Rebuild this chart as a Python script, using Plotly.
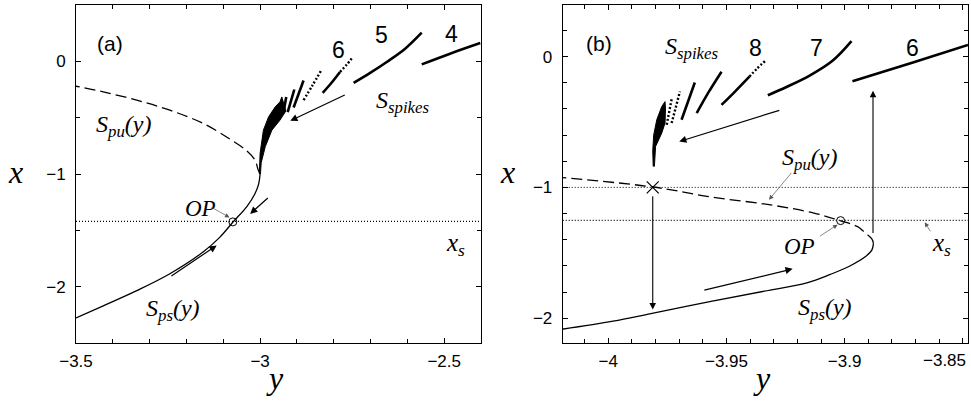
import plotly.graph_objects as go

# ---------------- Panel (a) data ----------------
sps_a_x = [-3.5, -3.426, -3.335, -3.245, -3.154, -3.109, -3.074, -3.036, -3.014, -3.004, -3.0]
sps_a_y = [-2.277, -2.17, -2.035, -1.885, -1.69, -1.56, -1.428, -1.289, -1.175, -1.09, -1.0]
spu_a_x = [-3.0, -3.005, -3.014, -3.036, -3.082, -3.154, -3.245, -3.335, -3.426, -3.5]
spu_a_y = [-1.0, -0.965, -0.876, -0.795, -0.690, -0.552, -0.434, -0.345, -0.271, -0.221]

cluster_a_x = [-3.002, -3.001, -3.000, -2.991, -2.977, -2.959, -2.946, -2.941,
               -2.930, -2.946, -2.968, -2.986, -2.997, -2.999]
cluster_a_y = [-1.00, -0.90, -0.816, -0.611, -0.493, -0.404, -0.360, -0.316,
               -0.44, -0.522, -0.611, -0.758, -0.90, -1.00]

branch_a_solid = [
    ([-2.937, -2.929], [-0.463, -0.316]),
    ([-2.925, -2.907], [-0.45, -0.25]),
    ([-2.909, -2.882], [-0.41, -0.17]),
    ([-2.830, -2.806, -2.783], [-0.280, -0.19, -0.094]),
    ([-2.746, -2.701, -2.656, -2.606, -2.561], [-0.192, -0.103, -0.006, 0.112, 0.254]),
    ([-2.561, -2.484, -2.402], [-0.027, 0.068, 0.162]),
]
branch_a_dotted = [
    ([-2.882, -2.858, -2.834], [-0.345, -0.215, -0.080]),
    ([-2.783, -2.765, -2.748], [-0.094, -0.03, 0.038]),
]
op_a = (-3.074, -1.425)
xs_a = -1.42

# ---------------- Panel (b) data ----------------
sps_b_x = [-4.02, -3.998, -3.982, -3.956, -3.934, -3.916, -3.906, -3.898, -3.891, -3.8885, -3.8878]
sps_b_y = [-2.086, -2.023, -1.965, -1.870, -1.794, -1.730, -1.665, -1.603, -1.527, -1.48, -1.43]
spu_b_x = [-3.8878, -3.8885, -3.892, -3.8945, -3.902, -3.913, -3.932, -3.956, -3.981, -4.02]
spu_b_y = [-1.43, -1.394, -1.336, -1.30, -1.254, -1.196, -1.132, -1.075, -0.997, -0.924]

cluster_b_x = [-3.9810, -3.9812, -3.9808, -3.9795, -3.9774, -3.9760,
               -3.9758, -3.9760, -3.9774, -3.9800, -3.9805]
cluster_b_y = [-0.84, -0.72, -0.60, -0.483, -0.382, -0.344,
               -0.40, -0.508, -0.585, -0.687, -0.84]

branch_b_solid = [
    ([-3.9690, -3.9634], [-0.483, -0.198]),
    ([-3.9626, -3.9575, -3.9521], [-0.432, -0.27, -0.115]),
    ([-3.9521, -3.9465, -3.9403], [-0.369, -0.269, -0.153]),
    ([-3.9325, -3.9246, -3.9148, -3.905, -3.8971], [-0.295, -0.232, -0.145, -0.03, 0.118]),
    ([-3.8967, -3.8711, -3.8478], [-0.188, -0.045, 0.089]),
]
branch_b_dotted = [
    ([-3.9753, -3.9732], [-0.521, -0.325]),
    ([-3.9732, -3.9697], [-0.508, -0.267]),
    ([-3.9403, -3.9370, -3.9334], [-0.153, -0.09, -0.03]),
]
op_b = (-3.9017, -1.254)
cross_b = (-3.9812, -1.0)
xs_b = -1.252
upper_b = -1.0

# tick definitions
xa_ticks = [-3.5, -3.0, -2.5]
xa_text = ["\u22123.5", "\u22123", "\u22122.5"]
ya_ticks = [-2, -1, 0]
ya_text = ["\u22122", "\u22121", "0"]
xb_ticks = [-4.0, -3.95, -3.9, -3.85]
xb_text = ["\u22124", "\u22123.95", "\u22123.9", "\u22123.85"]
yb_ticks = [-2, -1, 0]
yb_text = ["\u22122", "\u22121", "0"]

xa_range = [-3.5, -2.4]
ya_range = [-2.5, 0.5]
xb_range = [-4.0193, -3.8478]
yb_range = [-2.19, 0.395]

SERIF = "Liberation Serif, Times New Roman, Times, serif"
SANS = "Liberation Sans, Arial, Helvetica, sans-serif"

fig = go.Figure()

def line(x, y, xa, ya, width=1.3, dash="solid", color="black", shape="spline"):
    fig.add_trace(go.Scatter(x=x, y=y, mode="lines", xaxis=xa, yaxis=ya,
                             line=dict(color=color, width=width, dash=dash, shape=shape,
                                       smoothing=1.0),
                             hoverinfo="skip", showlegend=False))

# Panel (a)
line(sps_a_x, sps_a_y, "x", "y")
line(spu_a_x, spu_a_y, "x", "y", dash="11px,5px")
line([xa_range[0], xa_range[1]], [xs_a, xs_a], "x", "y", width=1.2, dash="1px,2px", shape="linear")
fig.add_trace(go.Scatter(x=cluster_a_x, y=cluster_a_y, mode="lines", fill="toself",
                         fillcolor="black", line=dict(color="black", width=1),
                         xaxis="x", yaxis="y", hoverinfo="skip", showlegend=False))
for bx, by in branch_a_solid:
    line(bx, by, "x", "y", width=2.6)
for bx, by in branch_a_dotted:
    line(bx, by, "x", "y", width=2.4, dash="2px,2px")
fig.add_trace(go.Scatter(x=[op_a[0]], y=[op_a[1]], mode="markers", xaxis="x", yaxis="y",
                         marker=dict(symbol="circle-open", size=8, color="black",
                                     line=dict(width=1)),
                         hoverinfo="skip", showlegend=False))

# Panel (b)
line(sps_b_x, sps_b_y, "x2", "y2")
line(spu_b_x, spu_b_y, "x2", "y2", dash="11px,5px")
line([xb_range[0], xb_range[1]], [xs_b, xs_b], "x2", "y2", width=1.2, dash="1px,2px", shape="linear")
line([xb_range[0], xb_range[1]], [upper_b, upper_b], "x2", "y2", width=1.0, dash="1px,2px", shape="linear")
fig.add_trace(go.Scatter(x=cluster_b_x, y=cluster_b_y, mode="lines", fill="toself",
                         fillcolor="black", line=dict(color="black", width=1),
                         xaxis="x2", yaxis="y2", hoverinfo="skip", showlegend=False))
for bx, by in branch_b_solid:
    line(bx, by, "x2", "y2", width=2.6)
for bx, by in branch_b_dotted:
    line(bx, by, "x2", "y2", width=2.4, dash="2px,2px")
fig.add_trace(go.Scatter(x=[op_b[0]], y=[op_b[1]], mode="markers", xaxis="x2", yaxis="y2",
                         marker=dict(symbol="circle-open", size=8, color="black",
                                     line=dict(width=1)),
                         hoverinfo="skip", showlegend=False))
fig.add_trace(go.Scatter(x=[cross_b[0]], y=[cross_b[1]], mode="markers", xaxis="x2", yaxis="y2",
                         marker=dict(symbol="x-thin-open", size=12, color="black",
                                     line=dict(width=1.2, color="black")),
                         hoverinfo="skip", showlegend=False))

ann = []

def text(t, x, y, xr, yr, size=24, family=SERIF, xanchor="center"):
    ann.append(dict(text=t, x=x, y=y, xref=xr, yref=yr, showarrow=False,
                    font=dict(family=family, size=size, color="black"),
                    xanchor=xanchor, yanchor="middle"))

def arrow(x, y, ax, ay, xr, yr, color="black", width=1.2, size=1.2, head=2):
    ann.append(dict(text="", x=x, y=y, ax=ax, ay=ay, xref=xr, yref=yr,
                    axref=xr, ayref=yr, showarrow=True, arrowhead=head,
                    arrowsize=size, arrowwidth=width, arrowcolor=color))

# labels panel (a)
text("(a)", -3.408, 0.156, "x", "y", size=21, family=SANS)
text("6", -2.787, 0.097, "x", "y", size=23, family=SANS)
text("5", -2.669, 0.23, "x", "y", size=23, family=SANS)
text("4", -2.479, 0.245, "x", "y", size=23, family=SANS)
text("<i>S</i><sub><i>spikes</i></sub>", -2.612, -0.36, "x", "y")
text("<i>S</i><sub><i>pu</i></sub><i>(y)</i>", -3.371, -0.575, "x", "y")
text("<i>S</i><sub><i>ps</i></sub><i>(y)</i>", -3.236, -2.21, "x", "y")
text("<i>OP</i>", -3.163, -1.304, "x", "y", size=23)
text("<i>x</i><sub><i>s</i></sub>", -2.468, -1.63, "x", "y", size=25)
arrow(-3.083, -1.385, -3.136, -1.289, "x", "y", color="#555", width=0.7, size=1.3)
arrow(-3.027, -1.354, -2.975, -1.201, "x", "y")
arrow(-3.118, -1.634, -3.245, -1.914, "x", "y")
arrow(-2.918, -0.528, -2.766, -0.292, "x", "y")

# labels panel (b)
text("(b)", -4.0041, 0.102, "x2", "y2", size=21, family=SANS)
text("8", -3.9376, 0.064, "x2", "y2", size=23, family=SANS)
text("7", -3.9117, 0.064, "x2", "y2", size=23, family=SANS)
text("6", -3.8713, 0.064, "x2", "y2", size=23, family=SANS)
text("<i>S</i><sub><i>spikes</i></sub>", -3.9648, 0.07, "x2", "y2")
text("<i>S</i><sub><i>pu</i></sub><i>(y)</i>", -3.9148, -0.785, "x2", "y2")
text("<i>S</i><sub><i>ps</i></sub><i>(y)</i>", -3.9084, -1.93, "x2", "y2")
text("<i>OP</i>", -3.919, -1.45, "x2", "y2", size=23)
text("<i>x</i><sub><i>s</i></sub>", -3.8591, -1.44, "x2", "y2", size=25)
arrow(-3.932, -1.094, -3.922, -0.878, "x2", "y2", color="#555", width=0.7, size=1.3)
arrow(-3.903, -1.285, -3.911, -1.379, "x2", "y2", color="#555", width=0.7, size=1.3)
arrow(-3.8661, -1.267, -3.8633, -1.348, "x2", "y2", color="#555", width=0.7, size=1.3)
arrow(-3.922, -1.623, -3.960, -1.789, "x2", "y2")
arrow(-3.970, -0.649, -3.927, -0.407, "x2", "y2")
arrow(-3.9812, -1.934, -3.9812, -1.056, "x2", "y2", width=1.1)
arrow(-3.888, -0.26, -3.888, -1.361, "x2", "y2", width=1.1)

# last tick label of panel (b) sits flush with the right edge, as in the reference
ann.append(dict(text=xb_text[-1], x=968 / 971, y=1 - 360 / 403, xref="paper", yref="paper",
                showarrow=False, font=dict(family=SANS, size=17, color="black"),
                xanchor="right", yanchor="middle"))
xb_shown = xb_text[:-1] + [""]

# axis titles
for t, xp, yp in [("x", 15, 172), ("y", 275, 378), ("x", 508, 172), ("y", 762, 378)]:
    ann.append(dict(text="<i>%s</i>" % t, x=xp / 971, y=1 - yp / 403, xref="paper", yref="paper",
                    showarrow=False, font=dict(family=SERIF, size=32, color="black"),
                    xanchor="center", yanchor="middle"))

def axis(domain, rng, tv, tt, anchor, mdt, mt0, standoff):
    return dict(domain=domain, range=rng, anchor=anchor, tickmode="array", tickvals=tv,
                ticktext=tt, ticks="inside", ticklen=5, tickwidth=1, tickcolor="black",
                showline=True, linecolor="black", linewidth=1, mirror="allticks",
                showgrid=False, zeroline=False, automargin=False,
                ticklabelstandoff=standoff,
                tickfont=dict(family=SANS, size=17, color="black"),
                minor=dict(tickmode="linear", tick0=mt0, dtick=mdt, ticks="inside",
                           ticklen=4, tickcolor="black", showgrid=False))

ydom = [1 - 343 / 403, 1 - 5 / 403]
fig.update_layout(
    width=971, height=403, margin=dict(l=0, r=0, t=0, b=0, autoexpand=False),
    paper_bgcolor="white", plot_bgcolor="white", showlegend=False,
    font=dict(family=SANS),
    xaxis=axis([76 / 971, 481 / 971], xa_range, xa_ticks, xa_text, "y", 0.1, 0, 3),
    yaxis=axis(ydom, ya_range, ya_ticks, ya_text, "x", 0.5, 0, 6),
    xaxis2=axis([562.7 / 971, 968 / 971], xb_range, xb_ticks, xb_shown, "y2", 0.01, 0, 3),
    yaxis2=axis(ydom, yb_range, yb_ticks, yb_text, "x2", 0.2, 0, 6),
    annotations=ann,
)

fig.write_html("out.html")
